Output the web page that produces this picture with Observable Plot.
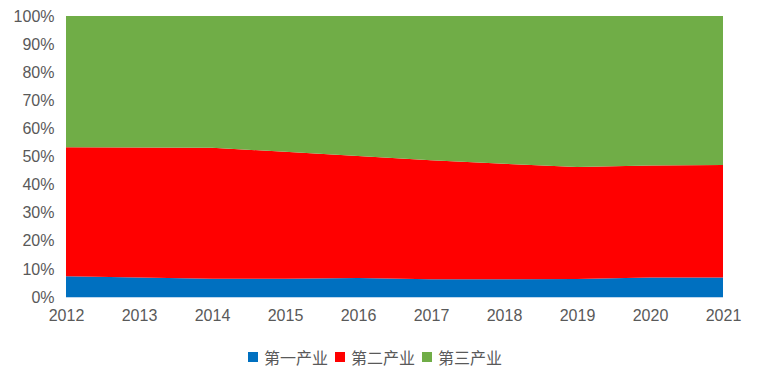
<!DOCTYPE html>
<html>
<head>
<meta charset="utf-8">
<script src="https://cdn.jsdelivr.net/npm/d3@7"></script>
<script src="https://cdn.jsdelivr.net/npm/@observablehq/plot@0.6"></script>
<style>
  body { margin: 0; background: #fff; font-family: "Liberation Sans", Arial, sans-serif; }
  #legend { display: flex; justify-content: center; align-items: center; gap: 7px; font-size: 16px; color: #595959; margin-top: 10px; padding-right: 14px; font-family: "Liberation Sans", "Noto Sans CJK SC", sans-serif; }
  #legend .item { display: flex; align-items: center; gap: 6px; }
  #legend .sw { width: 10px; height: 10px; display: inline-block; }
</style>
</head>
<body>
<div id="chart"></div>
<div id="legend"></div>
<script>
const years = [2012, 2013, 2014, 2015, 2016, 2017, 2018, 2019, 2020, 2021];
const seriesNames = ["第一产业", "第二产业", "第三产业"];
const colors = ["#0070C0", "#FF0000", "#70AD47"];
// shares in %
const primary   = [7.4, 6.9, 6.5, 6.5, 6.8, 6.3, 6.3, 6.4, 6.9, 6.9];
const secondary = [45.9, 46.3, 46.6, 45.2, 43.4, 42.4, 41.1, 39.9, 39.9, 40.1];
const tertiary  = [46.7, 46.8, 46.9, 48.3, 49.8, 51.3, 52.6, 53.7, 53.2, 53.0];
const yTicks = [0, 0.1, 0.2, 0.3, 0.4, 0.5, 0.6, 0.7, 0.8, 0.9, 1.0];

const allValues = [primary, secondary, tertiary];
const data = [];
seriesNames.forEach((s, si) => {
  years.forEach((y, i) => data.push({ year: y, series: s, value: allValues[si][i] }));
});

const chart = Plot.plot({
  width: 764,
  height: 335,
  marginLeft: 66,
  marginRight: 41,
  marginTop: 16,
  marginBottom: 38,
  style: { fontFamily: "Liberation Sans, Arial, sans-serif", fontSize: "16px", color: "#595959" },
  x: { domain: [2012, 2021], ticks: years, tickFormat: d => String(d), label: null, tickSize: 0, tickPadding: 12 },
  y: { domain: [0, 1], ticks: yTicks, tickFormat: d => Math.round(d * 100) + "%", label: null, tickSize: 0, tickPadding: 12 },
  color: { domain: seriesNames, range: colors },
  marks: [
    Plot.areaY(data, Plot.stackY({ offset: "normalize", order: seriesNames, x: "year", y: "value", z: "series", fill: "series" })),
    Plot.ruleY([0], { stroke: "#BDD7EE", strokeWidth: 1 })
  ]
});
document.getElementById("chart").appendChild(chart);

const legend = document.getElementById("legend");
seriesNames.forEach((s, i) => {
  const item = document.createElement("span");
  item.className = "item";
  item.innerHTML = `<span class="sw" style="background:${colors[i]}"></span><span>${s}</span>`;
  legend.appendChild(item);
});
</script>
</body>
</html>
